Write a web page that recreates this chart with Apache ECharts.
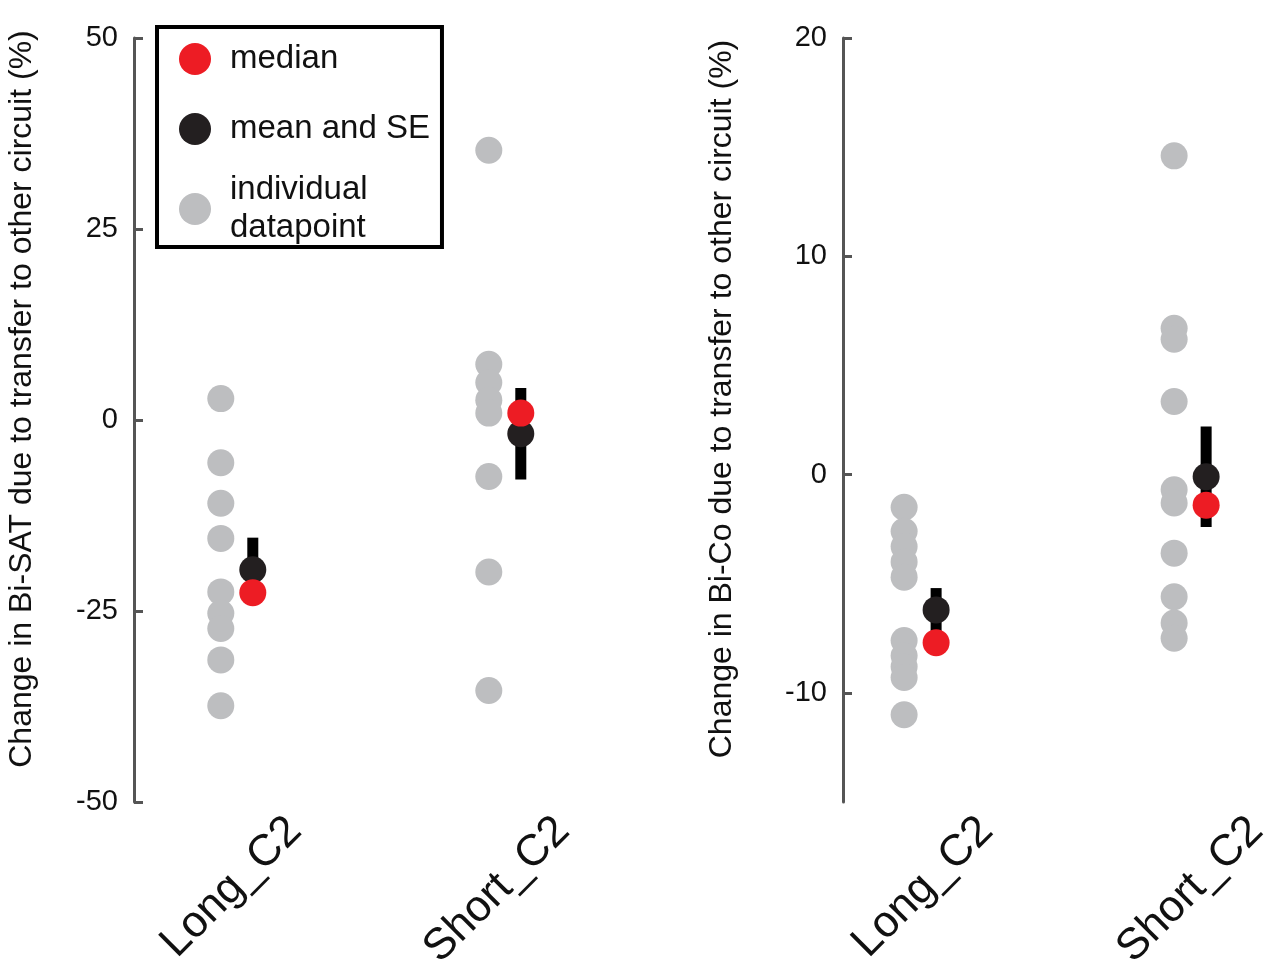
<!DOCTYPE html>
<html>
<head>
<meta charset="utf-8">
<script src="https://cdn.jsdelivr.net/npm/echarts@6.0.0/dist/echarts.min.js"></script>
<style>
    html, body { margin: 0; padding: 0; background: #fff; }
    #main { width: 1273px; height: 968px; }
</style>
</head>
<body>
<div id="main"></div>
<script>
    // categories
    var groups = ['Long_C2', 'Short_C2'];

    // Bi-SAT: individual datapoints (%)
    var satLong = [2.8, -5.6, -10.9, -15.5, -22.5, -25.3, -27.3, -31.4, -37.4];
    var satShort = [35.3, 7.3, 4.9, 2.6, 0.9, -7.4, -19.9, -35.4];
    var satMedian = [-22.6, 0.9];
    var satMean = [-19.6, -1.8];
    var satSE = [4.2, 6.0];

    // Bi-Co: individual datapoints (%)
    var coLong = [-1.5, -2.6, -3.3, -4.0, -4.7, -7.6, -8.3, -8.8, -9.3, -11.0];
    var coShort = [14.6, 6.7, 6.2, 3.35, -0.7, -1.3, -3.6, -5.6, -6.8, -7.5];
    var coMedian = [-7.7, -1.4];
    var coMean = [-6.2, -0.1];
    var coSE = [1.0, 2.3];

    // y tick labels
    var satTicks = [-50, -25, 0, 25, 50];
    var coTicks = [-10, 0, 10, 20];

    var GREY = '#BDBEC0', RED = '#ED1C24', BLACK = '#231F20';
    var FONT = 'Liberation Sans, Arial, Helvetica, sans-serif';

    function points(longArr, shortArr) {
        var out = [];
        longArr.forEach(function (v) { out.push([1, v]); });
        shortArr.forEach(function (v) { out.push([2, v]); });
        return out;
    }
    function pairs(arr) {
        return arr.map(function (v, i) { return [i + 1, v]; });
    }
    function errRows(mean, se) {
        return mean.map(function (m, i) { return [i + 1, m - se[i], m + se[i]]; });
    }
    // 误差棒 (mean ± SE)
    function errBar(shift) {
        return function (params, api) {
            var p1 = api.coord([api.value(0), api.value(1)]);
            var p2 = api.coord([api.value(0), api.value(2)]);
            return {
                type: 'rect',
                shape: { x: p1[0] + shift - 5.5, y: p2[1], width: 11, height: p1[1] - p2[1] },
                style: { fill: '#000' }
            };
        };
    }

    var axisLineStyle = { color: '#555', width: 3 };

    function xAxisCfg(idx, min, max) {
        return {
            type: 'value', gridIndex: idx, min: min, max: max,
            splitLine: { show: false }, axisLine: { show: false }, axisTick: { show: false },
            axisLabel: {
                customValues: [1, 2], rotate: 45, margin: 22,
                fontSize: 44, color: '#111', fontFamily: FONT,
                formatter: function (v) { return groups[Math.round(v) - 1] || ''; }
            }
        };
    }
    function yAxisCfg(idx, min, max, ticks, name, gap) {
        return {
            type: 'value', gridIndex: idx, min: min, max: max,
            name: name, nameLocation: 'middle', nameGap: gap,
            nameTextStyle: { fontSize: 32, color: '#111', fontFamily: FONT, padding: [0, 0, 0, 42] },
            splitLine: { show: false },
            axisLine: { show: true, lineStyle: axisLineStyle },
            axisTick: { show: true, inside: true, length: 9, lineStyle: axisLineStyle, customValues: ticks },
            axisLabel: { customValues: ticks, margin: 16, fontSize: 29, color: '#111', fontFamily: FONT }
        };
    }

    // dotShift / meanShift: horizontal pixel offset of the marks from the label tick
    function panelSeries(idx, dotShift, meanShift, longArr, shortArr, median, mean, se) {
        return [
            {
                name: 'individual datapoint', type: 'scatter', xAxisIndex: idx, yAxisIndex: idx,
                symbol: 'circle', symbolSize: 27, symbolOffset: [dotShift, 0],
                itemStyle: { color: GREY, opacity: 1 }, data: points(longArr, shortArr)
            },
            {
                name: 'SE', type: 'custom', xAxisIndex: idx, yAxisIndex: idx,
                renderItem: errBar(meanShift), encode: { x: 0, y: [1, 2] }, data: errRows(mean, se)
            },
            {
                name: 'mean and SE', type: 'scatter', xAxisIndex: idx, yAxisIndex: idx,
                symbol: 'circle', symbolSize: 27, symbolOffset: [meanShift, 0],
                itemStyle: { color: BLACK, opacity: 1 }, data: pairs(mean)
            },
            {
                name: 'median', type: 'scatter', xAxisIndex: idx, yAxisIndex: idx,
                symbol: 'circle', symbolSize: 27, symbolOffset: [meanShift, 0],
                itemStyle: { color: RED, opacity: 1 }, data: pairs(median)
            }
        ];
    }

    var myChart = echarts.init(document.getElementById('main'));
    var option = {
        animation: false,
        backgroundColor: '#fff',
        textStyle: { fontFamily: FONT },
        grid: [
            { left: 134, top: 38, width: 536, height: 764, outerBoundsMode: 'none' },
            { left: 843, top: 38, width: 418, height: 764, outerBoundsMode: 'none' }
        ],
        legend: {
            left: 157, top: 27, orient: 'vertical', selectedMode: false,
            borderColor: '#000', borderWidth: 4, padding: [4, 12, 0, 22],
            itemWidth: 32, itemHeight: 32, itemGap: 14,
            textStyle: { fontSize: 33, color: '#111', fontFamily: FONT, padding: [0, 0, 0, 14], lineHeight: 38 },
            formatter: function (n) { return n === 'individual datapoint' ? 'individual\ndatapoint' : n; },
            data: [
                { name: 'median', textStyle: { lineHeight: 56 } },
                { name: 'mean and SE', textStyle: { lineHeight: 56 } },
                { name: 'individual datapoint' }
            ]
        },
        xAxis: [xAxisCfg(0, 0.4, 2.4), xAxisCfg(1, 0.47, 2.018)],
        yAxis: [
            yAxisCfg(0, -50, 50, satTicks, 'Change in Bi-SAT due to transfer to other circuit (%)', 96),
            yAxisCfg(1, -15, 20, coTicks, 'Change in Bi-Co due to transfer to other circuit (%)', 105)
        ],
        series: panelSeries(0, -74, -42, satLong, satShort, satMedian, satMean, satSE)
            .concat(panelSeries(1, -82, -50, coLong, coShort, coMedian, coMean, coSE))
    };
    myChart.setOption(option);
</script>
</body>
</html>
